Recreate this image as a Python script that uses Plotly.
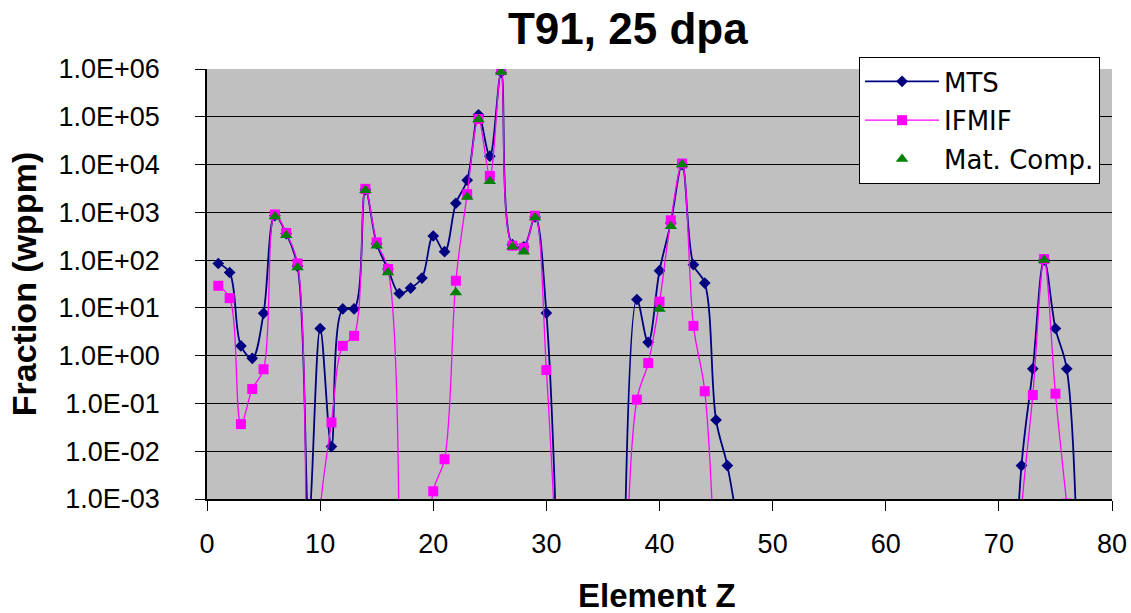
import plotly.graph_objects as go

# Element Z positions (None = break in the line)
z_mts = [1, 2, 3, 4, 5, 6, 7, 8, 9, 10, 11, 12, 13, 14, 15, 16, 17, 18, 19, 20,
         21, 22, 23, 24, 25, 26, 27, 28, 29, 30, 31, None,
         37, 38, 39, 40, 41, 42, 43, 44, 45, 46, 47, None,
         71, 72, 73, 74, 75, 76, 77]
mts = [85, 55, 1.6, 0.88, 7.7, 850, 360, 75, 4e-4, 3.7, 0.0125, 9.5, 9.5, 3000, 220, 65, 20, 26, 42, 320,
       150, 1550, 4700, 110000, 15000, 850000, 210, 190, 800, 7.8, 2e-5, None,
       7e-4, 15, 1.9, 60, 600, 10000, 80, 33, 0.045, 0.005, 2e-4, None,
       1e-7, 0.005, 0.53, 100, 3.7, 0.53, 9e-6]

z_ifmif = [1, 2, 3, 4, 5, 6, 7, 8, 9, 10, 11, 12, 13, 14, 15, 16, 17, None,
           19, 20, 21, 22, 23, 24, 25, 26, 27, 28, 29, 30, 31, None,
           37, 38, 39, 40, 41, 42, 43, 44, 45, None,
           71, 72, 73, 74, 75, 76]
ifmif = [29, 16, 0.037, 0.2, 0.52, 900, 370, 85, 1e-8, 6e-4, 0.04, 1.6, 2.6, 3100, 235, 65, 3e-6, None,
         1e-8, 0.00145, 0.0068, 37, 2400, 90000, 5800, 950000, 200, 180, 850, 0.5, 1.6e-5, None,
         8e-6, 0.12, 0.7, 13.5, 680, 10500, 4.2, 0.18, 5.6e-6, None,
         1e-7, 6e-4, 0.15, 105, 0.16, 8e-4]

z_mat = [6, 7, 8, 14, 15, 16, 22, 23, 24, 25, 26, 27, 28, 29, 40, 41, 42, 74]
mat = [820, 330, 70, 2900, 200, 55, 21, 2100, 88000, 4450, 870000, 190, 150, 780, 9.5, 510, 10000, 100]

y_tickvals = [1e-3, 1e-2, 1e-1, 1e0, 1e1, 1e2, 1e3, 1e4, 1e5, 1e6]
y_ticktext = ["1.0E-03", "1.0E-02", "1.0E-01", "1.0E+00", "1.0E+01",
              "1.0E+02", "1.0E+03", "1.0E+04", "1.0E+05", "1.0E+06"]

FONT = "Liberation Sans, Arial, sans-serif"
LEGFONT = "DejaVu Sans, Liberation Sans, Arial, sans-serif"

fig = go.Figure()
fig.add_trace(go.Scatter(
    x=z_mts, y=mts, name="MTS", mode="lines+markers",
    line=dict(color="#000080", width=1.8, shape="spline", smoothing=1.0),
    marker=dict(symbol="diamond", size=9, color="#000080"),
    connectgaps=False, legendgroup="a"))
fig.add_trace(go.Scatter(
    x=z_ifmif, y=ifmif, name="IFMIF", mode="lines+markers",
    line=dict(color="#FF00FF", width=1.3, shape="spline", smoothing=1.0),
    marker=dict(symbol="square", size=10, color="#FF00FF"),
    connectgaps=False, legendgroup="b"))
fig.add_trace(go.Scatter(
    x=z_mat, y=mat, name="Mat. Comp.", mode="markers",
    marker=dict(symbol="triangle-up", size=11, color="#008000"),
    legendgroup="c"))

fig.update_layout(
    width=1131, height=613,
    margin=dict(l=207, r=19, t=69, b=114, autoexpand=False),
    paper_bgcolor="white", plot_bgcolor="#C0C0C0",
    font=dict(family=FONT, color="black", size=26),
    title=dict(text="<b>T91, 25 dpa</b>", font=dict(family=FONT, size=44, color="black"),
               x=0.465, xref="paper", xanchor="center",
               y=1 - 29 / 613, yref="container", yanchor="middle"),
    showlegend=True,
    legend=dict(x=0.7205, y=1.028, xanchor="left", yanchor="top",
                bgcolor="white", bordercolor="black", borderwidth=1,
                font=dict(family=LEGFONT, size=26, color="black"),
                itemwidth=74,
                traceorder="grouped", tracegroupgap=2),
    annotations=[dict(text="<b>Element Z</b>", xref="paper", yref="paper",
                      x=0.4975, y=-0.224, xanchor="center", yanchor="middle",
                      showarrow=False, font=dict(family=FONT, size=33, color="black"))],
)
fig.update_xaxes(
    range=[0, 80], dtick=10, tick0=0, automargin=False,
    showline=True, linecolor="black", linewidth=1.5,
    ticks="outside", ticklen=10, tickcolor="black", tickwidth=1.2,
    ticklabelstandoff=10,
    showgrid=False, zeroline=False,
    tickfont=dict(family=FONT, size=27, color="black"),
)
fig.update_yaxes(
    type="log", range=[-3, 6], automargin=False,
    tickvals=y_tickvals, ticktext=y_ticktext,
    showline=True, linecolor="black", linewidth=1.5,
    ticks="outside", ticklen=10, tickcolor="black", tickwidth=1.2,
    ticklabelstandoff=30,
    showgrid=True, gridcolor="black", gridwidth=1.3,
    zeroline=False,
    tickfont=dict(family=FONT, size=27, color="black"),
    title=dict(text="<b>Fraction (wppm)</b>", font=dict(family=FONT, size=34, color="black"), standoff=12),
)

fig.write_html("out.html", config={"displayModeBar": False},
               post_script="document.body.style.margin='0px';")
